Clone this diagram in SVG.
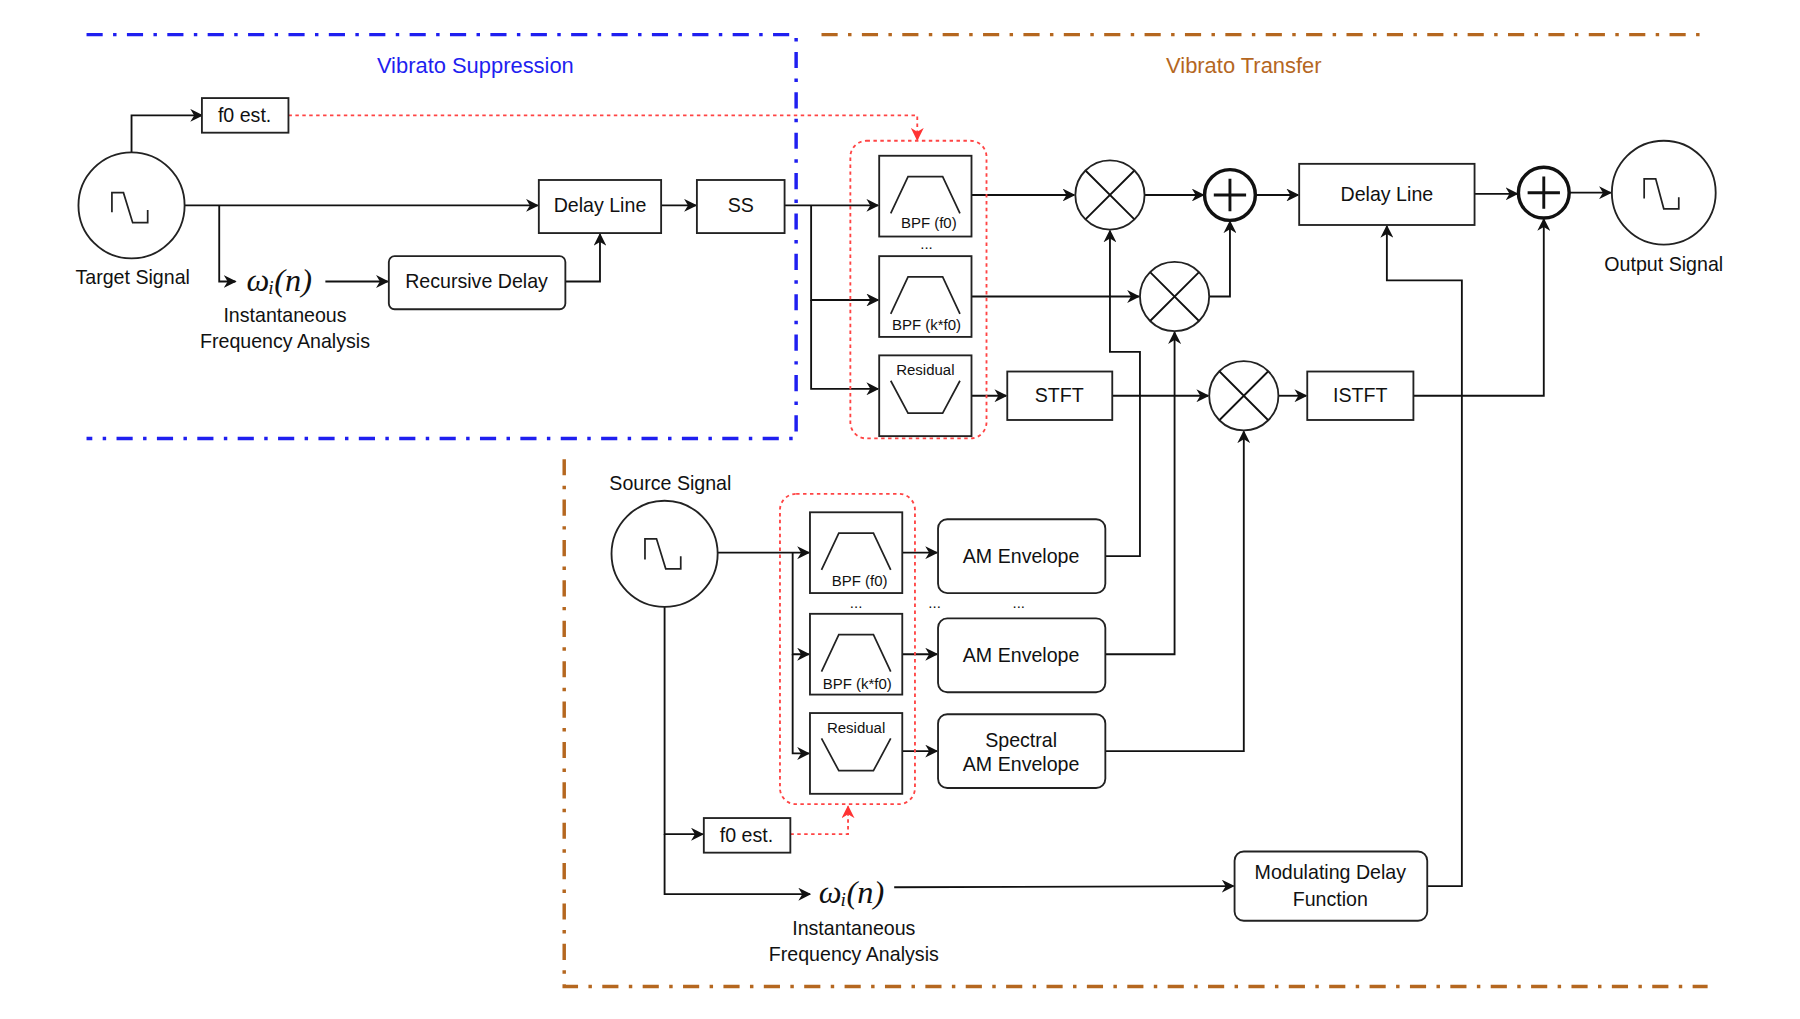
<svg xmlns="http://www.w3.org/2000/svg" width="1800" height="1019" viewBox="0 0 1800 1019">
<style>
text{font-family:"Liberation Sans",Arial,sans-serif;font-size:17px;fill:#111;text-anchor:middle}
.sm{font-size:13px}
.om{font-family:"Liberation Serif","DejaVu Serif",serif;font-style:italic;font-size:28px}
.b{fill:#fff;stroke:#222;stroke-width:1.6}
.c{stroke:#111;stroke-width:1.6;fill:none}
.red{stroke:#f44;stroke-width:1.6;fill:none;stroke-dasharray:3,3}
.w{fill:none;stroke:#222;stroke-width:1.5}
</style>
<defs>
<marker id="a" viewBox="0 0 10 10" refX="9" refY="5" markerWidth="7" markerHeight="7" orient="auto"><path d="M0,0L10,5L0,10L3,5z" fill="#111"/></marker>
<marker id="r" viewBox="0 0 10 10" refX="9" refY="5" markerWidth="7" markerHeight="7" orient="auto"><path d="M0,0L10,5L0,10L3,5z" fill="#f33"/></marker>
</defs>
<rect width="1800" height="1019" fill="#fff"/>
<g transform="scale(1.1538)">
<g id="regions" fill="none" stroke-width="3" stroke-dasharray="14,9,3,9">
<path d="M75,30H690V380H75" stroke="#1f1ff0"/>
<path d="M712,30H1480M489,398V855H1480" stroke="#b5671f"/>
<text x="412" y="63" style="fill:#1f1ff0;font-size:19px" stroke="none">Vibrato Suppression</text>
<text x="1078" y="63" style="fill:#b5671f;font-size:19px" stroke="none">Vibrato Transfer</text>
</g>
<g id="connectors">
<path class="c" marker-end="url(#a)" d="M114,132V100H175"/>
<path class="red" marker-end="url(#r)" d="M250,100H795V121"/>
<path class="c" marker-end="url(#a)" d="M160,178H466"/>
<path class="c" marker-end="url(#a)" d="M190,178V244H204"/>
<path class="c" marker-end="url(#a)" d="M282,244H336"/>
<path class="c" marker-end="url(#a)" d="M490,244H520V203"/>
<path class="c" marker-end="url(#a)" d="M573,178H603"/>
<path class="c" marker-end="url(#a)" d="M680,178H761"/>
<path class="c" marker-end="url(#a)" d="M703,178V260H761"/>
<path class="c" marker-end="url(#a)" d="M703,260V337H761"/>
<path class="c" marker-end="url(#a)" d="M842,169H931"/>
<path class="c" marker-end="url(#a)" d="M992,169H1043"/>
<path class="c" marker-end="url(#a)" d="M1088,169H1125"/>
<path class="c" marker-end="url(#a)" d="M1278,168H1315"/>
<path class="c" marker-end="url(#a)" d="M1360,167H1396"/>
<path class="c" marker-end="url(#a)" d="M842,257H987"/>
<path class="c" marker-end="url(#a)" d="M1048,257H1066V192"/>
<path class="c" marker-end="url(#a)" d="M842,343H872"/>
<path class="c" marker-end="url(#a)" d="M964,343H1047"/>
<path class="c" marker-end="url(#a)" d="M1108,343H1132"/>
<path class="c" marker-end="url(#a)" d="M1225,343H1338V190"/>
<path class="c" marker-end="url(#a)" d="M1237,768H1267V243H1202V196"/>
<path class="c" marker-end="url(#a)" d="M622,479H701"/>
<path class="c" marker-end="url(#a)" d="M687,479V567H701"/>
<path class="c" marker-end="url(#a)" d="M687,567V653H701"/>
<path class="c" marker-end="url(#a)" d="M782,479H812"/>
<path class="c" marker-end="url(#a)" d="M782,567H812"/>
<path class="c" marker-end="url(#a)" d="M782,651H812"/>
<path class="c" marker-end="url(#a)" d="M958,482H988V305H962V200"/>
<path class="c" marker-end="url(#a)" d="M958,567H1018V288"/>
<path class="c" marker-end="url(#a)" d="M958,651H1078V374"/>
<path class="c" marker-end="url(#a)" d="M576,526V723H609"/>
<path class="c" marker-end="url(#a)" d="M576,723V775H702"/>
<path class="red" marker-end="url(#r)" d="M685,723H735V699"/>
<path class="c" marker-end="url(#a)" d="M775,769L1069,768"/>
</g>
<g id="target"><circle class="b" cx="114" cy="178" r="46"/><path class="w" d="M97,184V167H107L115,193H128V182"/><text x="115" y="246">Target Signal</text></g>
<g id="f0est1"><rect class="b" x="175" y="85" width="75" height="30"/><text x="212" y="106">f0 est.</text></g>
<g id="ifa1"><text class="om" x="242" y="252">ωᵢ(n)</text><text x="247" y="279">Instantaneous</text><text x="247" y="302">Frequency Analysis</text></g>
<g id="recdelay"><rect class="b" x="337" y="222" width="153" height="46" rx="5"/><text x="413" y="250">Recursive Delay</text></g>
<g id="delay1"><rect class="b" x="467" y="156" width="106" height="46"/><text x="520" y="184">Delay Line</text></g>
<g id="ss"><rect class="b" x="604" y="156" width="76" height="46"/><text x="642" y="184">SS</text></g>
<g id="bank1">
<rect class="red" x="737" y="122" width="118" height="258" rx="14"/>
<rect class="b" x="762" y="135" width="80" height="70"/><path class="w" d="M772,185L787,153H817L832,185"/><text class="sm" x="805" y="198">BPF (f0)</text>
<text x="803" y="216" class="sm">...</text>
<rect class="b" x="762" y="222" width="80" height="70"/><path class="w" d="M772,272L787,240H817L832,272"/><text class="sm" x="803" y="286">BPF (k*f0)</text>
<rect class="b" x="762" y="308" width="80" height="70"/><text class="sm" x="802" y="325">Residual</text><path class="w" d="M772,330L787,358H817L832,330"/>
</g>
<g id="mul1"><circle class="b" cx="962" cy="169" r="30"/><path class="c" d="M941,148L983,190M983,148L941,190"/></g>
<g id="mul2"><circle class="b" cx="1018" cy="257" r="30"/><path class="c" d="M997,236L1039,278M1039,236L997,278"/></g>
<g id="mul3"><circle class="b" cx="1078" cy="343" r="30"/><path class="c" d="M1057,322L1099,364M1099,322L1057,364"/></g>
<g id="add1"><circle cx="1066" cy="169" r="22" fill="#fff" stroke="#111" stroke-width="3"/><path d="M1052,169H1080M1066,155V183" stroke="#111" stroke-width="2.5"/></g>
<g id="delay2"><rect class="b" x="1126" y="142" width="152" height="53"/><text x="1202" y="174">Delay Line</text></g>
<g id="add2"><circle cx="1338" cy="167" r="22" fill="#fff" stroke="#111" stroke-width="3"/><path d="M1324,167H1352M1338,153V181" stroke="#111" stroke-width="2.5"/></g>
<g id="output"><circle class="b" cx="1442" cy="167" r="45"/><path class="w" d="M1425,172V155H1435L1442,181H1455V171"/><text x="1442" y="235">Output Signal</text></g>
<g id="stft"><rect class="b" x="873" y="322" width="91" height="42"/><text x="918" y="348">STFT</text></g>
<g id="istft"><rect class="b" x="1133" y="322" width="92" height="42"/><text x="1179" y="348">ISTFT</text></g>
<g id="source"><circle class="b" cx="576" cy="480" r="46"/><path class="w" d="M559,485V467H569L577,493H590V482"/><text x="581" y="425">Source Signal</text></g>
<g id="bank2">
<rect class="red" x="676" y="428" width="117" height="269" rx="14"/>
<rect class="b" x="702" y="444" width="80" height="70"/><path class="w" d="M712,494L727,462H757L772,494"/><text class="sm" x="745" y="508">BPF (f0)</text>
<text x="742" y="527" class="sm">...</text>
<rect class="b" x="702" y="532" width="80" height="70"/><path class="w" d="M712,582L727,550H757L772,582"/><text class="sm" x="743" y="597">BPF (k*f0)</text>
<rect class="b" x="702" y="618" width="80" height="70"/><text class="sm" x="742" y="635">Residual</text><path class="w" d="M712,640L727,668H757L772,640"/>
</g>
<g id="am1"><rect class="b" x="813" y="450" width="145" height="64" rx="8"/><text x="885" y="488">AM Envelope</text></g>
<text class="sm" x="810" y="527">...</text><text class="sm" x="883" y="527">...</text>
<g id="am2"><rect class="b" x="813" y="536" width="145" height="64" rx="8"/><text x="885" y="574">AM Envelope</text></g>
<g id="sam"><rect class="b" x="813" y="619" width="145" height="64" rx="8"/><text x="885" y="647">Spectral</text><text x="885" y="668">AM Envelope</text></g>
<g id="f0est2"><rect class="b" x="610" y="709" width="75" height="30"/><text x="647" y="730">f0 est.</text></g>
<g id="ifa2"><text class="om" x="738" y="783">ωᵢ(n)</text><text x="740" y="810">Instantaneous</text><text x="740" y="833">Frequency Analysis</text></g>
<g id="mdf"><rect class="b" x="1070" y="738" width="167" height="60" rx="8"/><text x="1153" y="762">Modulating Delay</text><text x="1153" y="785">Function</text></g>
</g>
</svg>
